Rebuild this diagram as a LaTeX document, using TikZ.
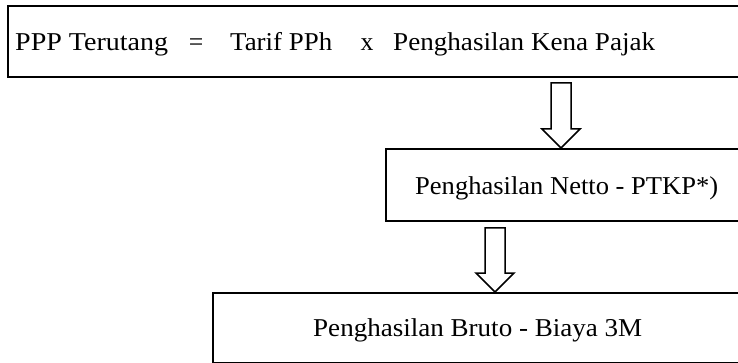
\documentclass[tikz,border=0pt]{standalone}
\usepackage{fontspec}
\setmainfont{Liberation Serif}
\usepackage{graphicx}

% set a text at a given natural-height font, stretched horizontally to a given width
\newcommand\fitwidth[2]{%
  \setbox0\hbox{#2}%
  \pgfmathsetmacro\fitratio{#1/\the\wd0}%
  \scalebox{\fitratio}[1]{\box0}}

\tikzset{
  box/.style={draw=black, line width=1.8pt, rectangle, inner sep=0pt, anchor=north west},
  label/.style={inner sep=0pt, anchor=base west, font=\fontsize{25.7}{30}\selectfont},
  symb/.style={inner sep=0pt, anchor=base, font=\fontsize{25.7}{30}\selectfont},
  blockarrow/.style={draw=black, line width=1.5pt, line join=miter, fill=white},
}

\begin{document}
\begin{tikzpicture}[x=1pt, y=-1pt]
  \useasboundingbox (0,0) rectangle (738,363);

  % the three boxes (running off the right edge)
  \node[box, minimum width=740pt, minimum height=71pt] (top) at (7,5) {};
  \node[box, minimum width=362pt, minimum height=72pt] (mid) at (385,148) {};
  \node[box, minimum width=535pt, minimum height=70pt] (bot) at (212,292) {};

  % formula in the top box
  \node[label] (t1) at (15,51) {\fitwidth{153}{PPP Terutang}};
  \node[symb]  (t2) at (196,51) {=};
  \node[label] (t3) at (230,51) {\fitwidth{102}{Tarif PPh}};
  \node[symb]  (t4) at (367,51) {x};
  \node[label] (t5) at (393,51) {\fitwidth{262}{Penghasilan Kena Pajak}};

  \node[label] (m1) at (415,195) {\fitwidth{303}{Penghasilan Netto - PTKP*)}};
  \node[label] (b1) at (313,336) {\fitwidth{329}{Penghasilan Bruto - Biaya 3M}};

  % hollow block arrows pointing down onto the boxes below
  \coordinate (tipA) at (561,0 |- mid.north);
  \coordinate (tipB) at (495,0 |- bot.north);
  \draw[blockarrow] (tipA) -- ++(-19,-19) -- ++(9,0) -- ++(0,-46)
        -- ++(20,0) -- ++(0,46) -- ++(9,0) -- cycle;
  \draw[blockarrow] (tipB) -- ++(-19,-19) -- ++(9,0) -- ++(0,-45)
        -- ++(20,0) -- ++(0,45) -- ++(9,0) -- cycle;
\end{tikzpicture}
\end{document}
